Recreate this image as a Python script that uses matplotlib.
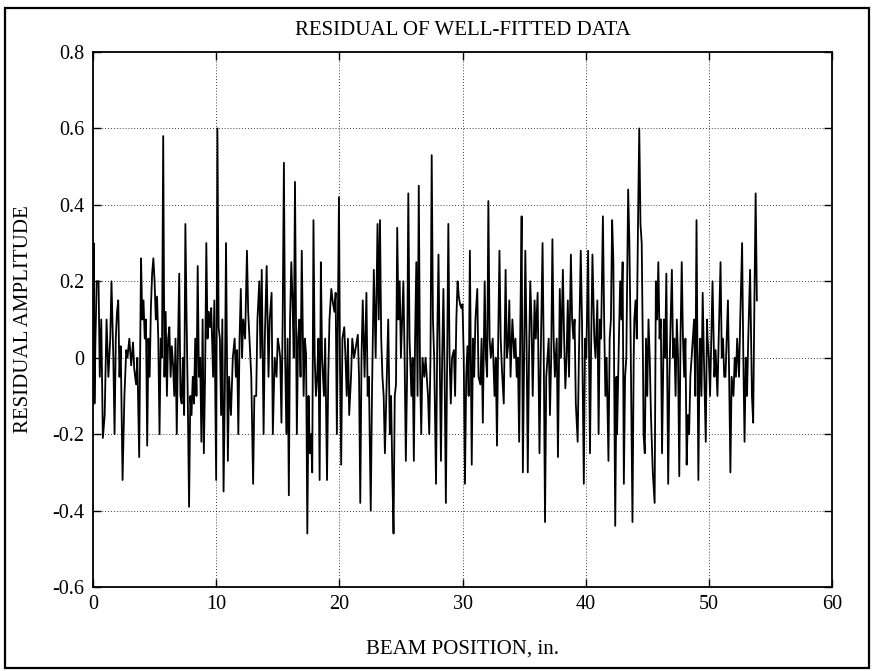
import numpy as np
import matplotlib
matplotlib.use("Agg")
import matplotlib.pyplot as plt
from matplotlib.patches import Rectangle

# Beam positions (in.) of the residual samples
beam_position = [
    0.0, 0.05, 0.12, 0.2, 0.3, 0.45, 0.55, 0.67, 0.8, 0.95,
    1.1, 1.25, 1.4, 1.5, 1.65, 1.75, 1.85, 1.95, 2.05, 2.15,
    2.25, 2.4, 2.55, 2.7, 2.8, 2.95, 3.1, 3.25, 3.35, 3.5,
    3.6, 3.75, 3.9, 4.0, 4.1, 4.2, 4.3, 4.4, 4.5, 4.6,
    4.7, 4.8, 4.9,
    5.0, 5.1, 5.2, 5.3, 5.4, 5.5, 5.6, 5.7, 5.8, 5.9,
    6.0, 6.1, 6.2, 6.3, 6.4, 6.5, 6.6, 6.7, 6.8, 6.9,
    7.0, 7.1, 7.2, 7.3, 7.4, 7.5, 7.6, 7.7, 7.8, 7.9,
    8.0, 8.1, 8.2, 8.3, 8.4, 8.5, 8.6, 8.7, 8.8, 8.9,
    9.0, 9.1, 9.2, 9.3, 9.4, 9.5, 9.6, 9.75, 9.85,
    10.0, 10.1, 10.2, 10.3, 10.4, 10.5, 10.6, 10.7, 10.8,
    10.95, 11.05, 11.2, 11.35, 11.5, 11.6, 11.7, 11.8, 11.9, 12.0,
    12.1, 12.2, 12.35, 12.5, 12.6, 12.7, 12.85, 13.0, 13.1, 13.25,
    13.35, 13.5, 13.6, 13.7, 13.85, 13.95, 14.1, 14.25, 14.35, 14.5,
    14.6, 14.75, 14.9, 15.0, 15.1, 15.2, 15.3, 15.4, 15.5, 15.6,
    15.7, 15.8, 15.9, 16.0, 16.1, 16.2, 16.3, 16.4, 16.55, 16.65,
    16.75, 16.85, 16.95, 17.1, 17.2, 17.3, 17.4, 17.5, 17.6, 17.7,
    17.8, 17.9, 18.0, 18.1, 18.2, 18.3, 18.4, 18.5, 18.6, 18.75,
    18.85, 19.0, 19.1, 19.2, 19.35, 19.45, 19.6, 19.7, 19.8, 19.97,
    20.05, 20.15, 20.25, 20.4, 20.5, 20.6, 20.7, 20.8, 20.95, 21.05,
    21.2, 21.35, 21.5, 21.6, 21.7, 21.8, 21.9, 22.05, 22.2, 22.3,
    22.4, 22.55, 22.65, 22.8, 22.95, 23.1, 23.2, 23.3, 23.4, 23.5,
    23.6, 23.7, 23.85, 23.97, 24.1, 24.2, 24.3, 24.4, 24.5, 24.6,
    24.7, 24.8, 24.9, 25.0, 25.1, 25.2, 25.3, 25.4, 25.5, 25.6,
    25.7, 25.85, 25.95, 26.05, 26.15, 26.25, 26.35, 26.45, 26.55, 26.65,
    26.75, 26.9, 27.0, 27.1, 27.2, 27.3, 27.4, 27.5, 27.6, 27.7,
    27.85, 27.95, 28.05, 28.15, 28.25, 28.35, 28.45, 28.55, 28.65, 28.75,
    28.85, 28.95, 29.05, 29.15, 29.3, 29.4, 29.5, 29.6, 29.7, 29.8,
    29.9, 30.0, 30.1, 30.2, 30.3, 30.4, 30.5, 30.6, 30.75, 30.85,
    30.95, 31.05, 31.2, 31.3, 31.45, 31.55, 31.65, 31.8, 31.9, 32.0,
    32.1, 32.2, 32.3, 32.45, 32.6, 32.7, 32.8, 32.9, 33.0, 33.1,
    33.2, 33.35, 33.5, 33.6, 33.7, 33.8, 33.9, 34.05, 34.2, 34.3,
    34.4, 34.5, 34.6, 34.7, 34.8, 34.9, 35.0, 35.1, 35.2, 35.3,
    35.4, 35.5, 35.6, 35.7, 35.85, 35.95, 36.1, 36.25, 36.35, 36.5,
    36.6, 36.7, 36.8, 36.9, 37.0, 37.1, 37.2, 37.3, 37.4, 37.5,
    37.65, 37.75, 37.9, 38.0, 38.15, 38.25, 38.35, 38.45, 38.55, 38.65,
    38.8, 38.9, 39.0, 39.1, 39.2, 39.35, 39.45, 39.6, 39.7, 39.85,
    39.95, 40.05, 40.2, 40.35, 40.45, 40.55, 40.7, 40.8, 40.95, 41.05,
    41.15, 41.25, 41.4, 41.5, 41.6, 41.7, 41.85, 41.95, 42.05, 42.15,
    42.25, 42.4, 42.5, 42.55, 42.7, 42.8, 42.9, 43.0, 43.1, 43.2,
    43.3, 43.45, 43.55, 43.65, 43.8, 43.9, 43.95, 44.05, 44.15, 44.25,
    44.35, 44.45, 44.55, 44.65, 44.7, 44.8, 44.9, 45.0, 45.1, 45.2,
    45.3, 45.45, 45.6, 45.7, 45.8, 45.9, 46.0, 46.1, 46.2, 46.35,
    46.45, 46.55, 46.7, 46.8, 46.9, 47.0, 47.1, 47.2, 47.3, 47.4,
    47.5, 47.6, 47.7, 47.8, 47.9, 48.0, 48.1, 48.2, 48.3, 48.4,
    48.5, 48.6, 48.7, 48.8, 48.9, 49.0,
    49.15, 49.25, 49.3, 49.4, 49.5, 49.6, 49.75, 49.85, 49.9, 50.0,
    50.1, 50.2, 50.3, 50.45, 50.55, 50.7, 50.8, 50.95, 51.05, 51.15,
    51.25, 51.35, 51.45, 51.55, 51.65, 51.75, 51.85, 52.0, 52.1, 52.2,
    52.3, 52.45, 52.55, 52.7, 52.8, 52.9, 53.0, 53.1, 53.2, 53.35,
    53.45, 53.5, 53.6, 53.7, 53.8, 53.9,
]

# Residual amplitude at each beam position
residual = [
    -0.12, 0.30, -0.12, 0.05, 0.20, 0.20, -0.05, 0.10, -0.21, -0.15,
    0.10, -0.05, 0.05, 0.20, 0.0, -0.20, 0.05, 0.12, 0.15, -0.05,
    0.03, -0.32, -0.10, 0.02, 0.0, 0.05, -0.02, 0.04, -0.03, -0.07,
    0.0, -0.26, 0.26, 0.10, 0.15, 0.05, 0.10, -0.23, 0.05, -0.05,
    0.13, 0.22, 0.26,
    0.20, 0.10, 0.16, 0.05, -0.20, 0.05, 0.0, 0.58, -0.05, 0.12,
    -0.10, 0.05, 0.08, -0.05, 0.03, -0.02, -0.10, 0.05, -0.20, 0.03,
    0.22, -0.10, -0.12, 0.0, -0.15, 0.35, 0.10, -0.12, -0.39, -0.10,
    -0.15, -0.05, -0.12, 0.05, -0.10, 0.24, -0.05, 0.0, -0.22, 0.10,
    -0.25, -0.05, 0.30, 0.05, 0.12, 0.08, 0.13, -0.05, 0.15,
    -0.32, 0.60, 0.08, 0.05, -0.15, 0.10, -0.35, -0.10, 0.30,
    -0.27, -0.05, -0.15, 0.0, 0.05, -0.05, 0.02, -0.20, 0.05, 0.18,
    0.0, 0.10, 0.05, 0.28, 0.12, 0.05, -0.05, -0.33, -0.10, -0.10,
    0.10, 0.20, 0.0, 0.23, -0.20, 0.05, 0.24, -0.05, 0.10, 0.17,
    -0.20, 0.0, -0.05, 0.05, 0.03, 0.0, -0.17, 0.10, 0.51, 0.0,
    -0.20, 0.05, -0.36, 0.10, 0.25, 0.15, 0.0, 0.46, -0.20, 0.05,
    0.10, -0.05, 0.28, -0.10, 0.05, 0.01, -0.46, -0.10, -0.25, -0.20,
    -0.30, 0.36, 0.0, -0.10, -0.05, 0.05, -0.32, 0.25, 0.0, -0.10,
    0.05, -0.32, -0.05, 0.10, 0.18, 0.15, 0.12, 0.17, -0.20, 0.42,
    0.0, -0.28, 0.05, 0.08, 0.0, -0.10, 0.05, -0.15, -0.05, 0.05,
    0.0, 0.03, 0.06, -0.05, -0.38, 0.0, 0.15, -0.05, 0.17, -0.10,
    -0.05, -0.40, -0.10, 0.23, 0.0, 0.35, 0.10, 0.36, 0.05, -0.05,
    -0.10, -0.25, -0.05, 0.10, -0.20, -0.10, -0.30, -0.46, -0.10, -0.07,
    0.34, 0.10, 0.20, 0.0, 0.10, 0.20, 0.0, -0.27, -0.05, 0.43,
    0.05, -0.10, 0.0, -0.27, 0.05, 0.25, -0.10, 0.45, -0.03, -0.20,
    0.0, -0.05, 0.0, -0.05, -0.10, -0.20, 0.0, 0.53, 0.10, 0.0,
    -0.33, 0.05, 0.27, 0.0, -0.27, 0.0, 0.18, -0.05, -0.38, 0.0,
    0.35, 0.0, -0.12, 0.0, 0.02, -0.10, 0.10, 0.20, 0.16, 0.14,
    0.13, 0.14, 0.0, -0.33, -0.05, 0.03, -0.10, 0.28, -0.28, 0.05,
    -0.05, 0.10, 0.18, -0.05, -0.07, 0.05, -0.17, 0.20, 0.0, -0.05,
    0.41, 0.05, 0.0, 0.05, -0.10, 0.0, -0.23, 0.05, 0.28, 0.05,
    -0.03, -0.12, 0.23, 0.0, 0.03, 0.15, -0.05, 0.10, 0.0, 0.05,
    -0.05, 0.0, -0.22, 0.10, 0.37, -0.30, 0.0, 0.28, 0.05, -0.30,
    0.0, 0.20, 0.10, -0.10, 0.15, 0.05, 0.17, -0.25, 0.0, 0.30,
    0.0, -0.43, -0.05, 0.0, 0.05, -0.15, 0.0, 0.31, 0.05, -0.05,
    0.05, -0.26, 0.18, 0.0, 0.23, 0.05, -0.08, 0.0, 0.15, -0.05,
    0.27, 0.10, 0.05, 0.10, -0.12, -0.22, 0.0, 0.28, 0.10, -0.33,
    0.05, 0.0, 0.28, -0.25, 0.05, 0.27, 0.05, 0.0, 0.15, -0.20,
    0.10, 0.05, 0.37, 0.10, -0.10, 0.0, -0.27, 0.05, 0.10, 0.36,
    0.25, -0.44, -0.05, -0.20, 0.05, 0.20, 0.10, 0.25, -0.33, -0.05,
    0.0, 0.44, 0.30, 0.05, -0.43, 0.0, 0.10, 0.15, 0.05, 0.35,
    0.60, 0.35, 0.30, 0.0, -0.20, -0.25, 0.05, -0.10, 0.10, 0.0,
    -0.15, -0.30, -0.38, 0.20, 0.10, 0.25, 0.05, 0.10, -0.25, 0.10,
    0.0, 0.22, -0.33, -0.05, 0.10, 0.23, 0.0, 0.05, -0.10, 0.10,
    0.0, -0.31, 0.05, 0.25, 0.05, -0.05, 0.05, -0.28, -0.15, -0.20,
    -0.05, 0.0, 0.05, 0.10, -0.10, 0.36,
    -0.32, 0.0, 0.05, -0.10, 0.17, 0.0, -0.22, 0.10, 0.05, 0.0,
    -0.10, 0.05, 0.20, -0.05, 0.02, -0.10, 0.05, 0.25, 0.0, 0.05,
    -0.05, -0.05, 0.05, 0.15, -0.05, -0.30, -0.05, -0.10, 0.0, -0.05,
    0.05, -0.05, 0.10, 0.30, 0.0, -0.22, 0.0, -0.10, 0.05, 0.23,
    0.0, -0.10, -0.17, 0.15, 0.43, 0.15,
]

x_ticks = [0, 10, 20, 30, 40, 50, 60]
y_ticks = [-0.6, -0.4, -0.2, 0, 0.2, 0.4, 0.6, 0.8]
y_tick_labels = ["-0.6", "-0.4", "-0.2", "0", "0.2", "0.4", "0.6", "0.8"]

assert len(beam_position) == len(residual)

plt.rcParams["font.family"] = ["Liberation Serif", "DejaVu Serif"]

fig = plt.figure(figsize=(8.73, 6.71), dpi=100)
fig.patch.set_facecolor("white")

# outer frame around the whole figure
fig.patches.append(Rectangle((5 / 873, 3 / 671), 864 / 873, 660 / 671,
                             transform=fig.transFigure, fill=False,
                             edgecolor="black", linewidth=1.6))

ax = fig.add_axes([93 / 873, 84 / 671, 739 / 873, 535 / 671])
ax.plot(beam_position, residual, color="black", linewidth=1.3)

ax.set_xlim(0, 60)
ax.set_ylim(-0.6, 0.8)
ax.set_xticks(x_ticks)
ax.set_yticks(y_ticks)
ax.set_yticklabels(y_tick_labels)
ax.grid(True, color="black", linestyle=(0, (1, 2.5)), linewidth=0.6)
ax.tick_params(direction="in", length=6, width=1.0, labelsize=14.5,
               top=True, right=True, pad=6)
for sp in ax.spines.values():
    sp.set_linewidth(1.3)

ax.set_title("RESIDUAL OF WELL-FITTED DATA", fontsize=15, pad=12)
ax.set_xlabel("BEAM POSITION, in.", fontsize=15, labelpad=18)
ax.set_ylabel("RESIDUAL AMPLITUDE", fontsize=15, labelpad=14)

fig.savefig("out.png", dpi=100)
